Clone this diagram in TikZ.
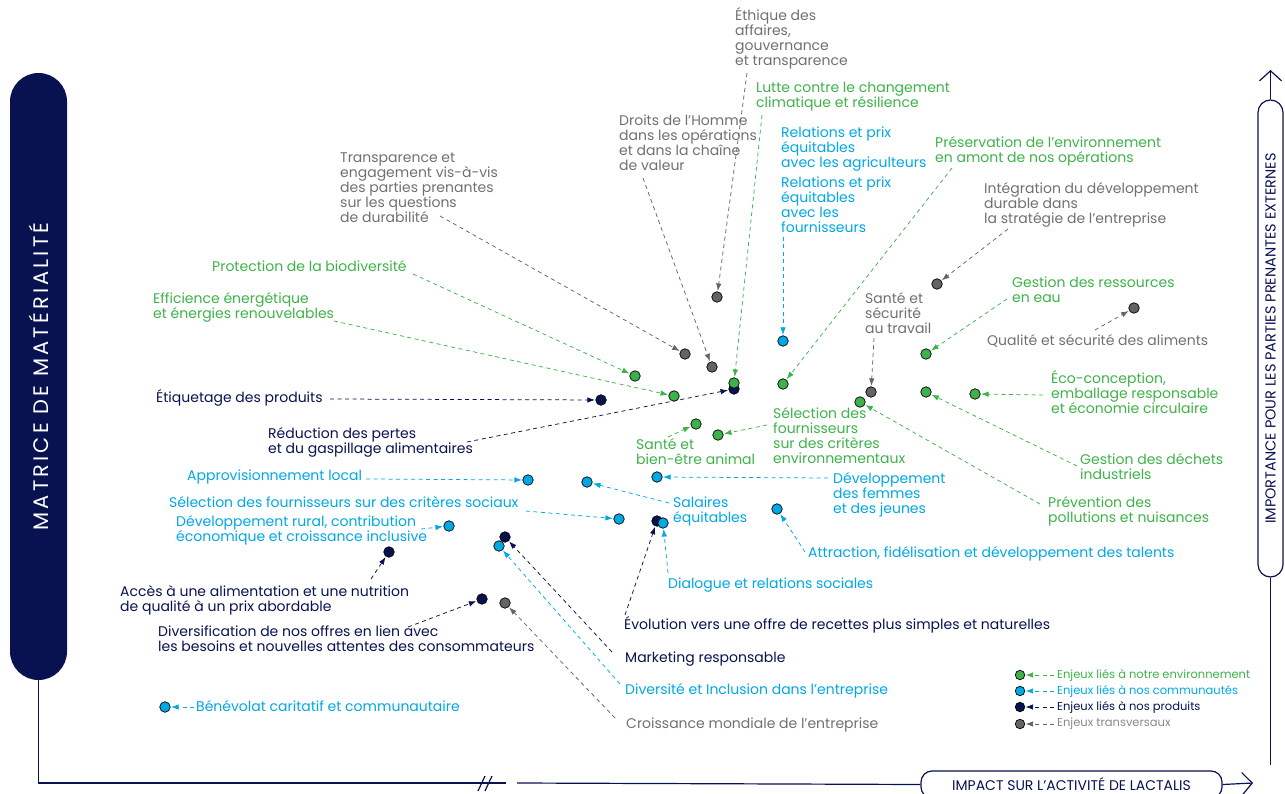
\documentclass[tikz,border=0pt]{standalone}
\usepackage{fontspec}
\setmainfont{Poppins}
\usetikzlibrary{arrows.meta}

\definecolor{envColor}{RGB}{62,178,74}
\definecolor{comColor}{RGB}{0,168,228}
\definecolor{prodColor}{RGB}{8,18,80}
\definecolor{transColor}{RGB}{100,100,104}
\definecolor{transText}{RGB}{112,112,112}
\definecolor{legText}{RGB}{135,135,135}

\newcommand\labfont{\fontsize{14}{15}\selectfont}
\newcommand\legfont{\fontsize{11.5}{12}\selectfont}

\begin{document}
\begin{tikzpicture}[x=1pt,y=-1pt,
  dot/.style={circle,draw=black,line width=0.7pt,minimum size=10.5pt,inner sep=0pt},
  dotEnv/.style={dot,fill=envColor},
  dotCom/.style={dot,fill=comColor},
  dotProd/.style={dot,fill=prodColor},
  dotTrans/.style={dot,fill=transColor},
  lab/.style={anchor=base west,inner sep=0pt,align=left,font=\labfont},
  labEnv/.style={lab,text=envColor},
  labCom/.style={lab,text=comColor},
  labProd/.style={lab,text=prodColor},
  labTrans/.style={lab,text=transText},
  link/.style={line width=0.75pt,dash pattern=on 4pt off 3.5pt,-{Latex[length=7.5pt,width=5.5pt]},shorten >=0.5pt},
  linkEnv/.style={link,color=envColor},
  linkCom/.style={link,color=comColor},
  linkProd/.style={link,color=prodColor},
  linkTrans/.style={link,color=transColor},
  axis/.style={draw=prodColor,line width=1.2pt},
  legdot/.style={dot,minimum size=9.5pt},
  leglab/.style={anchor=west,inner sep=0pt,font=\legfont}]
\useasboundingbox (0,0) rectangle (1285,794);

% Axes
\node[rotate=90,fill=prodColor,rounded corners=28.5pt,minimum width=607pt,minimum height=57pt,
  text=white,font=\fontsize{21}{21}\selectfont\addfontfeatures{LetterSpace=15}] (matrice) at (38.5,376.5) {MATRICE DE MATÉRIALITÉ};
\coordinate (origin) at (38.5,783);
\coordinate (cutA) at (506,783);
\coordinate (cutB) at (517,783);
\coordinate (xend) at (1253,783);
\coordinate (yend) at (1270.5,70);
\coordinate (ybot) at (1270.5,765);
\node[draw=prodColor,line width=1.2pt,fill=white,rounded corners=11pt,minimum width=301pt,minimum height=27pt,
  text=prodColor,font=\fontsize{14}{14}\selectfont] (impact) at (1071.5,784.5) {IMPACT SUR L’ACTIVITÉ DE LACTALIS};
\node[rotate=90,draw=prodColor,line width=1.2pt,rounded corners=12.5pt,minimum width=477pt,minimum height=25pt,
  text=prodColor,font=\fontsize{14.5}{14.5}\selectfont] (importance) at (1270.5,338.5) {IMPORTANCE POUR LES PARTIES PRENANTES EXTERNES\hspace{17pt}};
\draw[axis] (matrice.west) -- (origin) -- (cutA);
\draw[axis] (478,791) -- (485,776) (485,791) -- (492,776);
\draw[axis] (cutB) -- (impact.west);
\draw[axis,-{Straight Barb[length=10pt,width=22pt]}] (impact.east) -- (xend);
\draw[axis,-{Straight Barb[length=10pt,width=22pt]}] (importance.east) -- (yend);
\draw[axis] (importance.west) -- (ybot);

% Enjeux transversaux
\node[dotTrans] (ethD) at (717,297) {};
\node[dotTrans] (droitsD) at (712,367) {};
\node[dotTrans] (transpD) at (685,354) {};
\node[dotTrans] (integD) at (937,284) {};
\node[dotTrans] (santeD) at (871,392) {};
\node[dotTrans] (qualD) at (1134,308) {};
\node[dotTrans] (croisD) at (505,603) {};
\node[labTrans] (ethL) at (735,66) {Éthique des\\affaires,\\gouvernance\\et transparence};
\node[labTrans] (droitsL) at (619,171) {Droits de l’Homme\\dans les opérations\\et dans la chaîne\\de valeur};
\node[labTrans] (transpL) at (340,223) {Transparence et\\engagement vis-à-vis\\des parties prenantes\\sur les questions\\de durabilité};
\node[labTrans] (integL) at (984,224) {Intégration du développement\\durable dans\\la stratégie de l’entreprise};
\node[labTrans] (santeL) at (865,334) {Santé et\\sécurité\\au travail};
\node[labTrans] (qualL) at (987,345) {Qualité et sécurité des aliments};
\node[labTrans] (croisL) at (626,728) {Croissance mondiale de l’entreprise};
\coordinate (ethT) at (747,73);
\coordinate (droitsT) at (643,178);
\coordinate (transpT) at (440,216);
\coordinate (integT) at (1008,229);
\coordinate (santeT) at (874,338);
\coordinate (qualT) at (1095,330);
\coordinate (croisT) at (615,718);
\draw[linkTrans] (ethT) -- (ethD);
\draw[linkTrans] (droitsT) -- (droitsD);
\draw[linkTrans] (transpT) -- (transpD);
\draw[linkTrans] (integT) -- (integD);
\draw[linkTrans] (santeT) -- (santeD);
\draw[linkTrans] (qualT) -- (qualD);
\draw[linkTrans] (croisT) -- (croisD);

% Enjeux produits
\node[dotProd] (etiqD) at (601,400) {};
\node[dotProd] (reducD) at (734,389) {};
\node[dotProd] (accesD) at (389,552) {};
\node[dotProd] (diverD) at (482,599) {};
\node[dotProd] (evolD) at (657,521) {};
\node[dotProd] (markD) at (505,537) {};
\node[labProd] (etiqL) at (156,402) {Étiquetage des produits};
\node[labProd] (reducL) at (268,453) {Réduction des pertes\\et du gaspillage alimentaires};
\node[labProd] (accesL) at (120,611) {Accès à une alimentation et une nutrition\\de qualité à un prix abordable};
\node[labProd] (diverL) at (158,651) {Diversification de nos offres en lien avec\\les besoins et nouvelles attentes des consommateurs};
\node[labProd] (evolL) at (624,629) {Évolution vers une offre de recettes plus simples et naturelles};
\node[labProd] (markL) at (625,662) {Marketing responsable};
\coordinate (etiqT) at (330,399);
\coordinate (reducT) at (467,442);
\coordinate (accesT) at (371,579);
\coordinate (diverT) at (408,627);
\coordinate (evolT) at (625,615);
\coordinate (markT) at (612,652);
\draw[linkProd] (etiqT) -- (etiqD);
\draw[linkProd] (reducT) -- (reducD);
\draw[linkProd] (accesT) -- (accesD);
\draw[linkProd] (diverT) -- (diverD);
\draw[linkProd] (evolT) -- (evolD);
\draw[linkProd] (markT) -- (markD);

% Enjeux environnement
\node[dotEnv] (lutteD) at (734,383) {};
\node[dotEnv] (bioD) at (635,376) {};
\node[dotEnv] (effD) at (674,396) {};
\node[dotEnv] (presD) at (783,384) {};
\node[dotEnv] (eauD) at (926,354) {};
\node[dotEnv] (ecoD) at (975,394) {};
\node[dotEnv] (dechD) at (926,392) {};
\node[dotEnv] (prevD) at (860,402) {};
\node[dotEnv] (selED) at (718,435) {};
\node[dotEnv] (animD) at (696,424) {};
\node[labEnv] (lutteL) at (756,108) {Lutte contre le changement\\climatique et résilience};
\node[labEnv] (bioL) at (212,272) {Protection de la biodiversité};
\node[labEnv] (effL) at (153,319) {Efficience énergétique\\et énergies renouvelables};
\node[labEnv] (presL) at (935,163) {Préservation de l’environnement\\en amont de nos opérations};
\node[labEnv] (eauL) at (1012,302) {Gestion des ressources\\en eau};
\node[labEnv] (ecoL) at (1051,413) {Éco-conception,\\emballage responsable\\et économie circulaire};
\node[labEnv] (dechL) at (1080,479) {Gestion des déchets\\industriels};
\node[labEnv] (prevL) at (1048,522) {Prévention des\\pollutions et nuisances};
\node[labEnv] (selEL) at (773,463) {Sélection des\\fournisseurs\\sur des critères\\environnementaux};
\node[labEnv] (animL) at (636,464) {Santé et\\bien-être animal};
\coordinate (lutteT) at (762,115);
\coordinate (bioT) at (413,274);
\coordinate (effT) at (334,321);
\coordinate (presT) at (952,168);
\coordinate (eauT) at (1007,299);
\coordinate (ecoT) at (1043,395);
\coordinate (dechT) at (1077,466);
\coordinate (prevT) at (1040,504);
\coordinate (selET) at (767,425);
\coordinate (animT) at (668,437);
\draw[linkEnv] (lutteT) -- (lutteD);
\draw[linkEnv] (bioT) -- (bioD);
\draw[linkEnv] (effT) -- (effD);
\draw[linkEnv] (presT) -- (presD);
\draw[linkEnv] (eauT) -- (eauD);
\draw[linkEnv] (ecoT) -- (ecoD);
\draw[linkEnv] (dechT) -- (dechD);
\draw[linkEnv] (prevT) -- (prevD);
\draw[linkEnv] (selET) -- (selED);
\draw[linkEnv] (animT) -- (animD);

% Enjeux communautes
\node[dotCom] (relD) at (783,341) {};
\node[dotCom] (approD) at (528,480) {};
\node[dotCom] (selSD) at (619,519) {};
\node[dotCom] (ruralD) at (449,526) {};
\node[dotCom] (salD) at (587,482) {};
\node[dotCom] (femD) at (657,477) {};
\node[dotCom] (attrD) at (777,509) {};
\node[dotCom] (dialD) at (663,523) {};
\node[dotCom] (divD) at (499,546) {};
\node[dotCom] (benD) at (165,707) {};
\node[labCom] (relAL) at (781,168) {Relations et prix\\équitables\\avec les agriculteurs};
\node[labCom] (relFL) at (781,233) {Relations et prix\\équitables\\avec les\\fournisseurs};
\node[labCom] (approL) at (187,480) {Approvisionnement local};
\node[labCom] (selSL) at (169,507) {Sélection des fournisseurs sur des critères sociaux};
\node[labCom] (ruralL) at (176,541) {Développement rural, contribution\\économique et croissance inclusive};
\node[labCom] (salL) at (673,522) {Salaires\\équitables};
\node[labCom] (femL) at (833,513) {Développement\\des femmes\\et des jeunes};
\node[labCom] (attrL) at (808,557) {Attraction, fidélisation et développement des talents};
\node[labCom] (dialL) at (668,588) {Dialogue et relations sociales};
\node[labCom] (divL) at (625,694) {Diversité et Inclusion dans l’entreprise};
\node[labCom] (benL) at (196,711) {Bénévolat caritatif et communautaire};
\coordinate (relT) at (783,237);
\coordinate (approT) at (366,479);
\coordinate (selST) at (526,511);
\coordinate (ruralT) at (421,529);
\coordinate (salT) at (669,503);
\coordinate (femT) at (828,478);
\coordinate (attrT) at (805,552);
\coordinate (dialT) at (668,573);
\coordinate (divT) at (620,684);
\coordinate (benT) at (194,707);
\draw[linkCom] (relT) -- (relD);
\draw[linkCom] (approT) -- (approD);
\draw[linkCom] (selST) -- (selSD);
\draw[linkCom] (ruralT) -- (ruralD);
\draw[linkCom] (salT) -- (salD);
\draw[linkCom] (femT) -- (femD);
\draw[linkCom] (attrT) -- (attrD);
\draw[linkCom] (dialT) -- (dialD);
\draw[linkCom] (divT) -- (divD);
\draw[linkCom] (benT) -- (benD);

% Legende
\node[legdot,fill=envColor] (legEnvD) at (1020,675) {};
\node[legdot,fill=comColor] (legComD) at (1020,691) {};
\node[legdot,fill=prodColor] (legProdD) at (1020,707) {};
\node[legdot,fill=transColor] (legTransD) at (1020,724) {};
\node[leglab,text=envColor] (legEnvL) at (1057,675) {Enjeux liés à notre environnement};
\node[leglab,text=comColor] (legComL) at (1057,691) {Enjeux liés à nos communautés};
\node[leglab,text=prodColor] (legProdL) at (1057,707) {Enjeux liés à nos produits};
\node[leglab,text=legText] (legTransL) at (1057,724) {Enjeux transversaux};
\draw[linkEnv] ([xshift=-3pt]legEnvL.west) -- (legEnvD);
\draw[linkCom] ([xshift=-3pt]legComL.west) -- (legComD);
\draw[linkProd] ([xshift=-3pt]legProdL.west) -- (legProdD);
\draw[linkTrans] ([xshift=-3pt]legTransL.west) -- (legTransD);
\end{tikzpicture}
\end{document}
